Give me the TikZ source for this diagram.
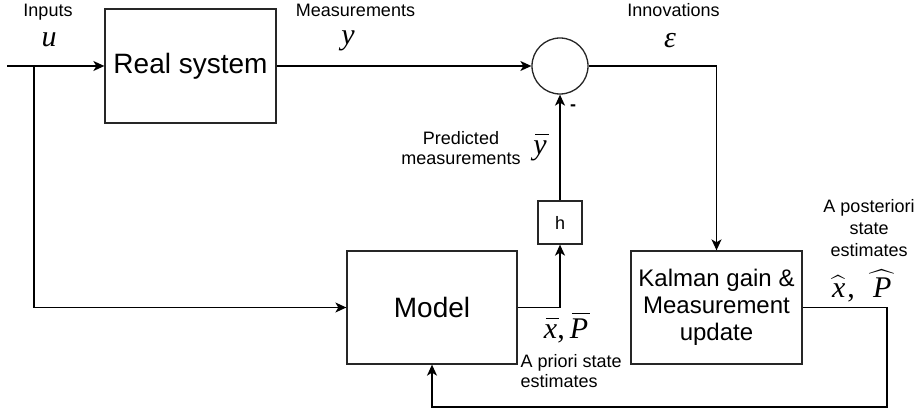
\RequirePackage{fix-cm}
\documentclass[tikz,border=0pt]{standalone}
\usepackage{amsmath}
\usepackage{fontspec}
\setmainfont{Liberation Sans}
\newfontfamily\serifrm{Liberation Serif}
\usetikzlibrary{arrows.meta}
% italic serif symbols at label size
\newcommand{\symfont}{\fontsize{30}{32}\selectfont\serifrm}
\newcommand{\varsym}[1]{{\symfont\itshape #1}}
% a symbol with a bar: #1 letter, #2 gap between glyph top and bar
\newcommand{\barsym}[2]{{\symfont\itshape
  \setbox0\hbox{#1}%
  \rlap{\kern2pt\raisebox{\dimexpr\ht0+#2\relax}{\rule{\wd0}{1.3pt}}}\box0}}
% a symbol with a wide hat: #1 letter, #2 width the hat spans
\newcommand{\hatsym}[2]{{\symfont
  $\widehat{\hbox to #2{\hss\serifrm\itshape #1\hss}}$}}
\newcommand{\symcomma}{{\symfont ,}}
\begin{document}
\begin{tikzpicture}[x=1pt,y=-1pt,
  line width=1.3pt,
  block/.style={draw=black!85, rectangle, inner sep=0pt, align=center},
  lbl/.style={inner sep=0pt, font=\fontsize{18}{20}\selectfont, align=center},
  sym/.style={inner sep=0pt, anchor=base},
  arr/.style={-{Stealth[length=11pt,width=10pt,inset=3pt]}}]
\useasboundingbox (0,0) rectangle (917,414);

% blocks
\node[block, minimum width=171pt, minimum height=114pt,
      font=\fontsize{28}{32}\selectfont] (real) at (190.5,66) {Real system};
\node[draw=black!85, circle, minimum size=56pt, inner sep=0pt] (sum) at (560,66) {};
\node[block, minimum width=44pt, minimum height=43pt,
      font=\fontsize{18}{20}\selectfont] (h) at (560,222.5) {h};
\node[block, minimum width=170pt, minimum height=113pt,
      font=\fontsize{28}{32}\selectfont] (model) at (432,307.5) {Model};
\node[block, minimum width=171pt, minimum height=113pt,
      font=\fontsize{24}{27}\selectfont] (kalman) at (716.5,307.5)
      {Kalman gain \&\\Measurement\\update};

% free ends of the connectors
\coordinate (in) at (7,66);
\coordinate (branch) at (34,66);
\coordinate (fbr) at (887,407);

% connectors
\draw[arr] (in) -- (real.west);
\draw[arr] (branch) |- (model.west);
\draw[arr] (real.east) -- (sum.west);
\draw[arr] (sum.east) -| (kalman.north);
\draw[arr] (model.east) -| (h.south);
\draw[arr] (h.north) -- (sum.south);
\draw[arr] (kalman.east) -| (fbr) -| (model.south);

% labels
\node[lbl, anchor=base] (linputs) at (48,17) {Inputs};
\node[sym] (lu) at (49,47) {\varsym{u}};
\node[lbl, anchor=base] (lmeas) at (355.5,17) {Measurements};
\node[sym] (ly) at (348,45) {\varsym{y}};
\node[lbl, anchor=base] (linnov) at (673.5,17) {Innovations};
\node[sym] (leps) at (670,48) {\varsym{ε}};
\node[lbl] (lpred) at (461,148.5) {Predicted\\measurements};
\node[sym] (lybar) at (540,155) {\barsym{y}{6pt}};
\node[inner sep=0pt, font=\fontsize{18}{20}\selectfont\bfseries] (lminus) at (573,108) {-};
\node[sym] (lprior) at (566,338) {\barsym{x}{5pt}\symcomma\hspace{5pt}\barsym{P}{4pt}};
\node[lbl, align=left, anchor=west] (lpriortxt) at (520,371.5) {A priori state\\estimates};
\node[lbl, font=\fontsize{18}{22}\selectfont] (lposttxt) at (869,228) {A posteriori\\state\\estimates};
\node[sym] (lpost) at (864,297) {\hatsym{x}{17pt}\symcomma\hspace{12pt}\hatsym{P}{31pt}};
\end{tikzpicture}
\end{document}
